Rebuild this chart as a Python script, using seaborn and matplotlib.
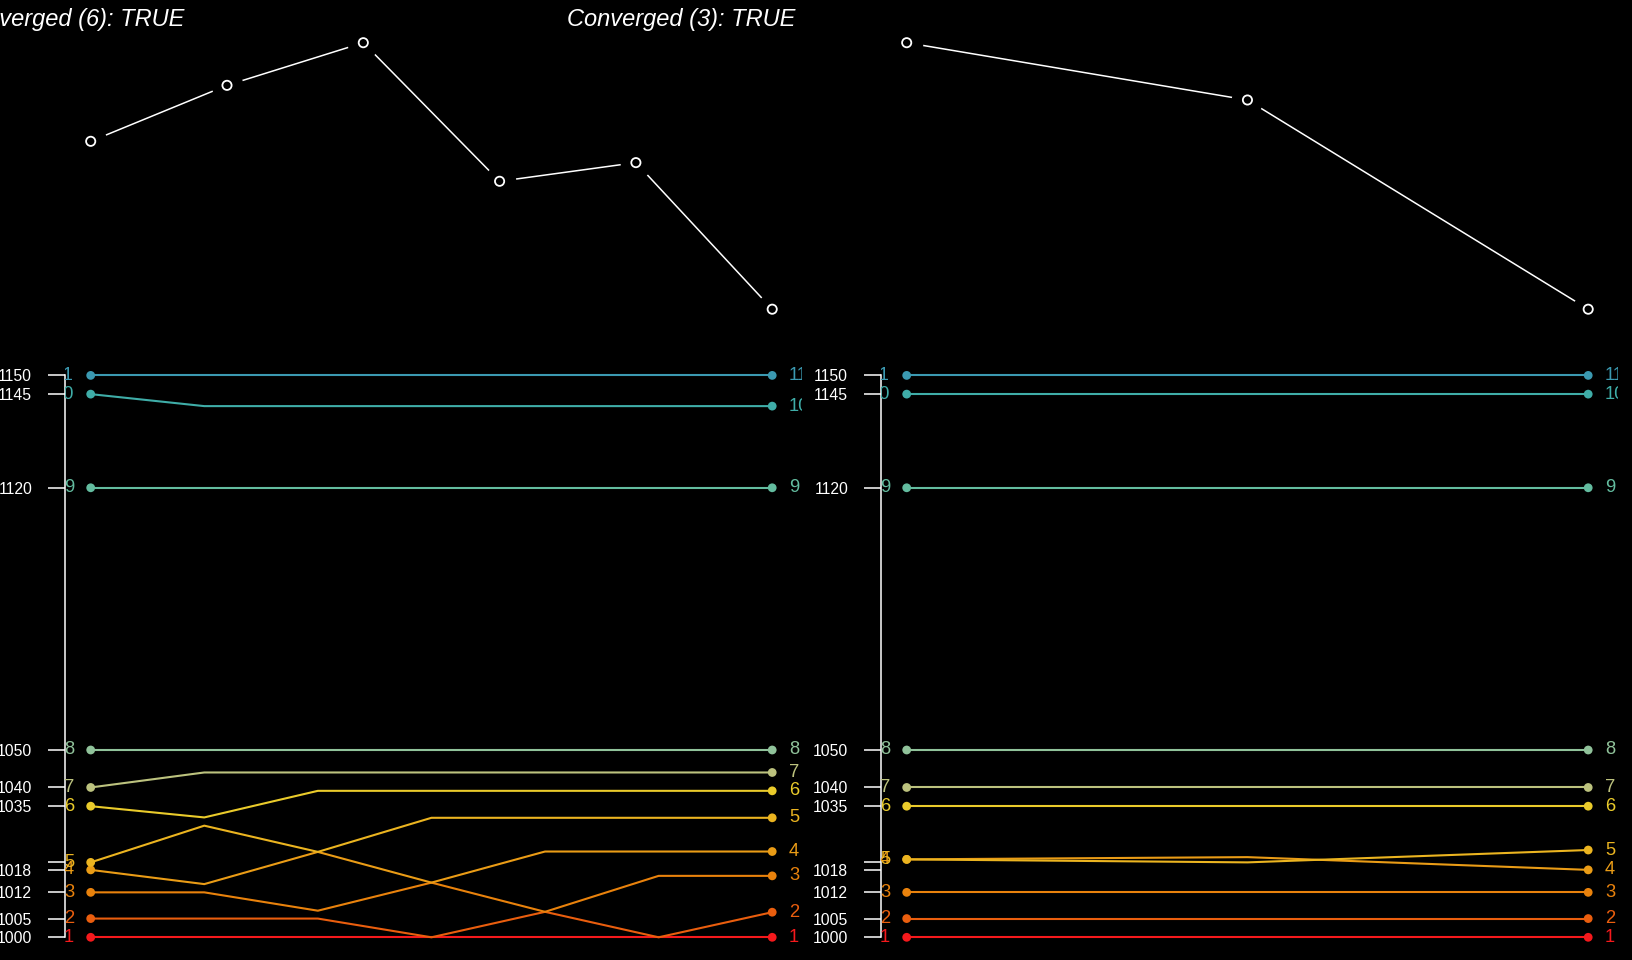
import matplotlib
matplotlib.use("Agg")
import matplotlib.pyplot as plt
import matplotlib.transforms as mtransforms
import pandas as pd
import seaborn as sns

# ---- data ----
items = [str(i) for i in range(1, 12)]
item_colors = ["#F5191C", "#EA5E0E", "#E9820C", "#EA9C16", "#EBB420", "#EACB2B",
               "#BCC27E", "#90C29A", "#63BC9F", "#3FADA8", "#3B99B1"]

tick_values = [1000, 1005, 1012, 1018, 1020, 1035, 1040, 1050, 1120, 1145, 1150]
tick_labels = ["1000", "1005", "1012", "1018", "", "1035", "1040", "1050", "1120", "1145", "1150"]

titles = ["Converged (6): TRUE", "Converged (3): TRUE"]

# cost per iteration (top panels)
cost_run1 = [0.63, 0.84, 1.00, 0.48, 0.55, 0.00]
cost_run2 = [1.00, 0.785, 0.00]

# label positions per item, one row per item, one column per step
positions_run1 = [
    [1000, 1000, 1000, 1000, 1000, 1000, 1000],
    [1005, 1005, 1005, 1000, 1006.8, 1000, 1006.7],
    [1012, 1012, 1007.1, 1014.6, 1006.8, 1016.4, 1016.4],
    [1018, 1014.2, 1022.8, 1014.6, 1022.9, 1022.9, 1022.9],
    [1020, 1029.8, 1022.8, 1031.9, 1031.9, 1031.9, 1031.9],
    [1035, 1032.0, 1039.1, 1039.1, 1039.1, 1039.1, 1039.1],
    [1040, 1044.0, 1044.0, 1044.0, 1044.0, 1044.0, 1044.0],
    [1050, 1050, 1050, 1050, 1050, 1050, 1050],
    [1120, 1120, 1120, 1120, 1120, 1120, 1120],
    [1145, 1141.8, 1141.8, 1141.8, 1141.8, 1141.8, 1141.8],
    [1150, 1150, 1150, 1150, 1150, 1150, 1150],
]
positions_run2 = [
    [1000, 1000, 1000],
    [1005, 1005, 1005],
    [1012, 1012, 1012],
    [1020.8, 1021.4, 1018.0],
    [1020.8, 1020.0, 1023.3],
    [1035, 1035, 1035],
    [1040, 1040, 1040],
    [1050, 1050, 1050],
    [1120, 1120, 1120],
    [1145, 1145, 1145],
    [1150, 1150, 1150],
]

# ---- style ----
sns.set_theme(style="white")
plt.rcParams["font.family"] = ["Liberation Sans", "DejaVu Sans"]
palette = dict(zip(items, item_colors))

W, H = 1632, 960
fig = plt.figure(figsize=(W / 100, H / 100), dpi=100, facecolor="black")


def px_axes(x0, y0, x1, y1):
    ax = fig.add_axes([x0 / W, 1 - y1 / H, (x1 - x0) / W, (y1 - y0) / H])
    ax.set_facecolor("none")
    return ax


def set_xrange(ax, n):
    unit = 681.5 / (n - 1)
    ax.set_xlim(-26.2 / unit, n - 1 + 29.3 / unit)


def draw_run(x0, cost, positions):
    x1 = x0 + 737
    # top: cost per iteration
    top = px_axes(x0, 25, x1, 330)
    cdf = pd.DataFrame({"iter": range(len(cost)), "cost": cost})
    sns.lineplot(data=cdf, x="iter", y="cost", color="white", lw=1.1, ax=top)
    sns.scatterplot(data=cdf, x="iter", y="cost", color="black", s=520,
                    linewidth=0, ax=top, zorder=3)
    sns.scatterplot(data=cdf, x="iter", y="cost", s=44, linewidth=1.3,
                    ax=top, zorder=4)
    top.collections[-1].set_facecolor("none")
    top.collections[-1].set_edgecolor("white")
    set_xrange(top, len(cost))
    top.set_ylim(-20.8 / 266.5, 1 + 17.7 / 266.5)
    top.set_axis_off()

    # bottom: label positions per step
    ax = px_axes(x0, 330, x1, 950)
    n = len(positions[0])
    df = pd.DataFrame([(items[i], s, v) for i, row in enumerate(positions)
                       for s, v in enumerate(row)], columns=["item", "step", "pos"])
    sns.lineplot(data=df, x="step", y="pos", hue="item", palette=palette,
                 estimator=None, lw=1.5, legend=False, ax=ax)
    ends = df[df["step"].isin([0, n - 1])]
    sns.scatterplot(data=ends, x="step", y="pos", hue="item", palette=palette,
                    s=40, linewidth=0, legend=False, ax=ax, zorder=3)

    left_tr = mtransforms.offset_copy(ax.transData, fig=fig, x=-16.7, y=0, units="dots")
    right_tr = mtransforms.offset_copy(ax.transData, fig=fig, x=16.7, y=0, units="dots")
    for i, row in enumerate(positions):
        ax.text(0, row[0], items[i], transform=left_tr, ha="right", va="center",
                color=item_colors[i], fontsize=13.2, clip_on=True)
        ax.text(n - 1, row[-1], items[i], transform=right_tr, ha="left", va="center",
                color=item_colors[i], fontsize=13.2, clip_on=True)

    set_xrange(ax, n)
    ax.set_ylim(1000 - 12.7 / 3.746, 1000 + 607.3 / 3.746)
    for side in ["top", "right", "bottom"]:
        ax.spines[side].set_visible(False)
    ax.spines["left"].set_color("white")
    ax.spines["left"].set_linewidth(1.1)
    ax.spines["left"].set_bounds(1000, 1150)
    ax.set_yticks(tick_values, tick_labels)
    ax.set_xticks([])
    ax.tick_params(axis="y", left=True, length=12, width=1.1, color="white",
                   labelcolor="white", labelsize=11.3, pad=11.3)
    ax.set_xlabel("")
    ax.set_ylabel("")


draw_run(64.5, cost_run1, positions_run1)
draw_run(880.5, cost_run2, positions_run2)

fig.text(184 / W, 1 - 26 / H, titles[0], ha="right", va="baseline",
         style="italic", color="white", fontsize=17)
fig.text(795 / W, 1 - 26 / H, titles[1], ha="right", va="baseline",
         style="italic", color="white", fontsize=17)

fig.savefig("out.png", dpi=100, facecolor="black")
